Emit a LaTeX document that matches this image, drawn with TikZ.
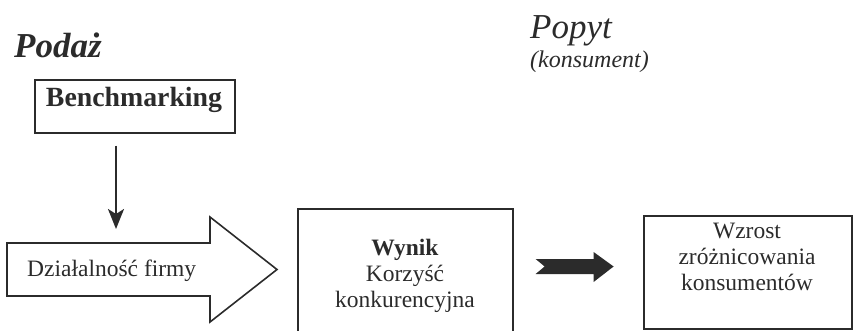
\documentclass[tikz,border=0pt]{standalone}
\usepackage{fontspec}
\setmainfont{Liberation Serif}
\usetikzlibrary{arrows.meta,calc}
\definecolor{ink}{HTML}{2B2B2B}
\begin{document}
\begin{tikzpicture}[x=1pt,y=-1pt,
  every node/.style={text=ink, inner sep=0pt},
  frame/.style={draw=ink, line width=1.6pt},
  body/.style={font=\fontsize{23.5}{26}\selectfont, align=center},
  flow/.style={draw=ink, line width=2pt, -{Stealth[length=20pt,width=16pt,inset=5pt]}},
  ]
\clip (0,0) rectangle (853,330);

% headings
\node[anchor=base west, font=\fontsize{35}{40}\selectfont\bfseries\itshape] (supply) at (14,57) {Podaż};
\node[anchor=base west, font=\fontsize{35}{40}\selectfont\itshape] (demand) at (530,38) {Popyt};
\node[anchor=base west, font=\fontsize{24}{26}\selectfont\itshape] (consumer) at (530,67) {(konsument)};

% benchmarking box
\node[frame, minimum width=200pt, minimum height=53pt, anchor=north west] (bench) at (34,79) {};
\node[anchor=base, font=\fontsize{27.8}{30}\selectfont\bfseries] (benchtext) at (134,106) {Benchmarking};

% outlined block arrow: company activity
\coordinate (fa) at (7,243);
\coordinate (fb) at (210,243);
\coordinate (fc) at (210,217);
\coordinate (tip) at (277,269.5);
\coordinate (fd) at (210,322);
\coordinate (fe) at (210,296);
\coordinate (ff) at (7,296);
\draw[frame, line join=miter] (fa) -- (fb) -- (fc) -- (tip) -- (fd) -- (fe) -- (ff) -- cycle;
\node[anchor=base west, font=\fontsize{23.5}{26}\selectfont] (firm) at (27,276) {Działalność firmy};
\coordinate (firmtop) at (116,243);

% benchmarking feeds the activity
\draw[flow, shorten <=12pt, shorten >=14pt] (bench.south west -| firmtop) -- (firmtop);

% result box (base anchor of a multi-line node sits on its last line)
\node[frame, minimum width=215pt, minimum height=132pt, anchor=north west] (result) at (297,208) {};
\node[body, anchor=base] (resulttitle) at (405,255) {\bfseries Wynik};
\node[body, anchor=base] (resulttext) at (405,307) {Korzyść\\konkurencyjna};

% growth box
\node[frame, minimum width=208pt, minimum height=113pt, anchor=north west] (growth) at (643,215) {};
\node[body, anchor=base] (growthtext) at (747,290) {Wzrost\\zróżnicowania\\konsumentów};

% solid arrow between result and growth
\coordinate (sa) at ($(result.east |- 0,266.5)+(22,0)$);
\fill[ink] ($(sa)+(0,-7.5)$) -- ++(58,0) -- ++(0,-7) -- ($(sa)+(78,0)$) -- ($(sa)+(58,15.5)$) -- ++(0,-8) -- ($(sa)+(0,7.5)$) -- ($(sa)+(9,0)$) -- cycle;
\end{tikzpicture}
\end{document}
